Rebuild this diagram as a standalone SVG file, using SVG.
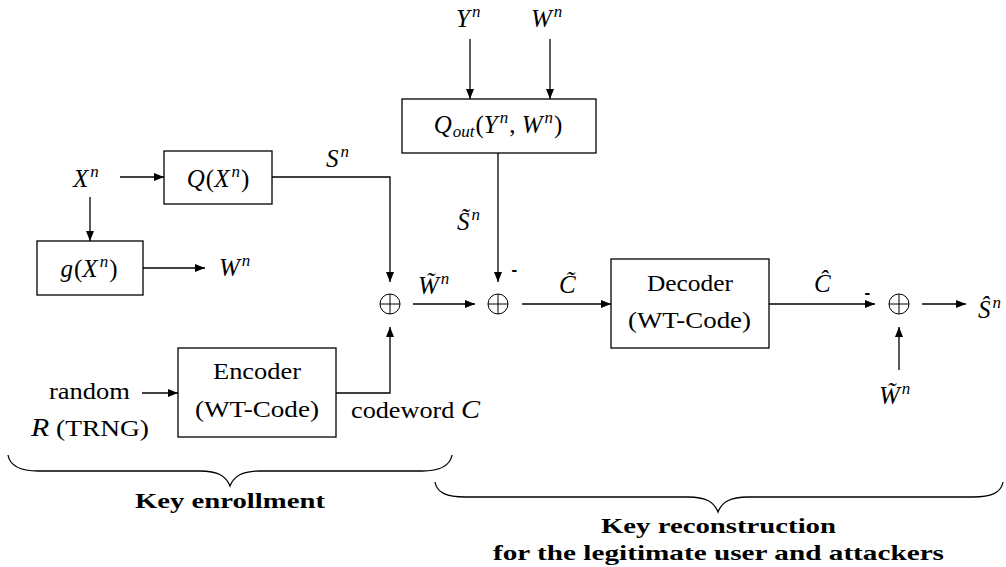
<svg xmlns="http://www.w3.org/2000/svg" width="1006" height="567" viewBox="0 0 1006 567">
<defs>
<marker id="ah" markerWidth="11" markerHeight="9" refX="10" refY="4" orient="auto" markerUnits="userSpaceOnUse">
<path d="M0,0 L10,4 L0,8 z" fill="#000"/>
</marker>
<style>
.box{fill:#fff;stroke:#000;stroke-width:1.3}
.ar{fill:none;stroke:#000;stroke-width:1.3;marker-end:url(#ah)}
.ad{fill:none;stroke:#000;stroke-width:1}
.t{font-family:"Liberation Serif","Times New Roman",serif;font-size:23px;fill:#000}
.m{font-family:"Liberation Serif","Times New Roman",serif;font-size:25px;font-style:italic;fill:#000}
.up{font-style:normal}
.sp{font-size:17px}
.b{font-family:"Liberation Serif","Times New Roman",serif;font-size:21px;font-weight:bold;fill:#000}
.mn{font-family:"Liberation Sans",Arial,sans-serif;font-size:17px;font-weight:bold;fill:#000}
.br{fill:none;stroke:#000;stroke-width:1.3}
</style>
</defs>
<g id="connectors">
<path class="ar" d="M120,177 H164"/>
<path class="ar" d="M90,197 V241"/>
<path class="ar" d="M143,268 H205"/>
<path class="ar" d="M272,177 H390 V282"/>
<path class="ar" d="M470,39 V99"/>
<path class="ar" d="M550,39 V99"/>
<path class="ar" d="M498,153 V282"/>
<path class="ar" d="M142,393 H178"/>
<path class="ar" d="M336,393 H390 V327"/>
<path class="ar" d="M413,304 H475"/>
<path class="ar" d="M522,304 H611"/>
<path class="ar" d="M769,304 H875"/>
<path class="ar" d="M922,304 H966"/>
<path class="ar" d="M899,370 V327"/>
</g>
<g id="Q">
<rect class="box" x="164" y="151" width="108" height="53"/>
<text class="m" x="218" y="187" text-anchor="middle">Q<tspan class="up" dx="1">(</tspan>X<tspan class="sp" dx="2" dy="-10">n</tspan><tspan class="up" dx="1" dy="10">)</tspan></text>
</g>
<g id="g">
<rect class="box" x="37" y="241" width="106" height="54"/>
<text class="m" x="89" y="277" text-anchor="middle">g<tspan class="up" dx="1">(</tspan>X<tspan class="sp" dx="2" dy="-10">n</tspan><tspan class="up" dx="1" dy="10">)</tspan></text>
</g>
<g id="Qout">
<rect class="box" x="402" y="99" width="194" height="54"/>
<text class="m" x="498" y="133" text-anchor="middle">Q<tspan class="sp" dx="1" dy="4">out</tspan><tspan class="up" dx="1" dy="-4">(</tspan>Y<tspan class="sp" dx="2" dy="-10">n</tspan><tspan class="up" dx="1" dy="10">, </tspan>W<tspan class="sp" dx="2" dy="-10">n</tspan><tspan class="up" dx="1" dy="10">)</tspan></text>
</g>
<g id="encoder">
<rect class="box" x="178" y="348" width="158" height="89"/>
<text class="t" x="213" y="379" textLength="88" lengthAdjust="spacingAndGlyphs">Encoder</text>
<text class="t" x="195" y="417" textLength="124" lengthAdjust="spacingAndGlyphs">(WT-Code)</text>
</g>
<g id="decoder">
<rect class="box" x="611" y="259" width="158" height="89"/>
<text class="t" x="647" y="291" textLength="86" lengthAdjust="spacingAndGlyphs">Decoder</text>
<text class="t" x="628" y="328" textLength="123" lengthAdjust="spacingAndGlyphs">(WT-Code)</text>
</g>
<g id="adder1">
<circle class="ad" cx="390" cy="304" r="10"/>
<path class="ad" d="M380,304 H400 M390,294 V314"/>
</g>
<g id="adder2">
<circle class="ad" cx="498" cy="304" r="10"/>
<path class="ad" d="M488,304 H508 M498,294 V314"/>
</g>
<g id="adder3">
<circle class="ad" cx="899" cy="304" r="10"/>
<path class="ad" d="M889,304 H909 M899,294 V314"/>
</g>
<g id="labels">
<text class="m" x="73" y="187">X<tspan class="sp" dx="2" dy="-10">n</tspan></text>
<text class="m" x="219" y="276">W<tspan class="sp" dx="2" dy="-10">n</tspan></text>
<text class="m" x="326" y="167">S<tspan class="sp" dx="2" dy="-10">n</tspan></text>
<text class="m" x="456" y="27">Y<tspan class="sp" dx="2" dy="-10">n</tspan></text>
<text class="m" x="531" y="27">W<tspan class="sp" dx="2" dy="-10">n</tspan></text>
<text class="m" x="457" y="230">S&#771;<tspan class="sp" dx="2" dy="-10">n</tspan></text>
<text class="mn" x="511.5" y="275">-</text>
<text class="m" x="418" y="294">W&#771;<tspan class="sp" dx="2" dy="-10">n</tspan></text>
<text class="m" x="559" y="293">C&#771;</text>
<text class="m" x="814" y="292">C&#770;</text>
<text class="mn" x="864.5" y="298">-</text>
<text class="m" x="978" y="318">S&#770;<tspan class="sp" dx="2" dy="-10">n</tspan></text>
<text class="m" x="879" y="404">W&#771;<tspan class="sp" dx="2" dy="-10">n</tspan></text>
<text class="t" x="49" y="399" textLength="81" lengthAdjust="spacingAndGlyphs">random</text>
<text class="t" x="31" y="436" textLength="118" lengthAdjust="spacingAndGlyphs"><tspan class="m">R</tspan> (TRNG)</text>
<text class="t" x="351" y="418" textLength="129" lengthAdjust="spacingAndGlyphs">codeword <tspan class="m">C</tspan></text>
</g>
<g id="enrollment">
<path class="br" d="M8,455 C10,466 20,471 38,471 L200,471 C218,471 226,476 230,486 C234,476 242,471 260,471 L422,471 C440,471 450,466 452,455"/>
<text class="b" x="135" y="508" textLength="190" lengthAdjust="spacingAndGlyphs">Key enrollment</text>
</g>
<g id="reconstruction">
<path class="br" d="M435,482 C437,493 447,497 465,497 L688,497 C706,497 714,502 718,512 C722,502 730,497 748,497 L973,497 C991,497 1001,493 1003,482"/>
<text class="b" x="601" y="533" textLength="235" lengthAdjust="spacingAndGlyphs">Key reconstruction</text>
<text class="b" x="493" y="560" textLength="451" lengthAdjust="spacingAndGlyphs">for the legitimate user and attackers</text>
</g>
</svg>
